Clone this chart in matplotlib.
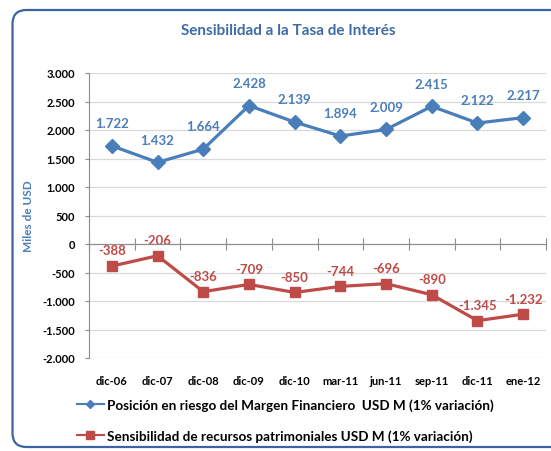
import matplotlib
matplotlib.use("Agg")
import matplotlib.pyplot as plt
from matplotlib.patches import FancyBboxPatch
from matplotlib.lines import Line2D

categories = ["dic-06", "dic-07", "dic-08", "dic-09", "dic-10",
              "mar-11", "jun-11", "sep-11", "dic-11", "ene-12"]
margen = [1722, 1432, 1664, 2428, 2139, 1894, 2009, 2415, 2122, 2217]
patrimonio = [-388, -206, -836, -709, -850, -744, -696, -890, -1345, -1232]
y_ticks = [-2000, -1500, -1000, -500, 0, 500, 1000, 1500, 2000, 2500, 3000]

label_margen = "Posición en riesgo del Margen Financiero  USD M (1% variación)"
label_patrimonio = "Sensibilidad de recursos patrimoniales USD M (1% variación)"

BLUE = "#4A7EBB"
RED = "#BE4B48"
DARKBLUE = "#3F6CA6"
GRID = "#D9D9D9"
AXIS = "#8C8C8C"

plt.rcParams['font.family'] = ['Lato', 'DejaVu Sans']


def fmt(v):
    return f"{v:,.0f}".replace(",", ".")


fig = plt.figure(figsize=(5.51, 4.52), dpi=100)

# outer frame, runs off the right edge like the screenshot
frame = FancyBboxPatch((0.125, 0.04), 5.8, 4.37,
                       boxstyle="round,pad=0,rounding_size=0.14",
                       transform=fig.dpi_scale_trans, fill=False,
                       edgecolor="#3B64A0", linewidth=1.6)
fig.patches.append(frame)

fig.text(288 / 551, 1 - 31 / 452, "Sensibilidad a la Tasa de Interés",
         ha="center", va="center", fontsize=11, fontweight="bold", color=DARKBLUE)

ax = fig.add_axes([89 / 551, 1 - 359 / 452, (546 - 89) / 551, (359 - 74) / 452])
x = list(range(len(categories)))

ax.plot(x, margen, color=BLUE, lw=2.3, marker="D", markersize=7, zorder=4)
ax.plot(x, patrimonio, color=RED, lw=2.3, marker="s", markersize=7.5, zorder=4)

for xi, v in zip(x, margen):
    ax.annotate(fmt(v), (xi, v), xytext=(0, 12), textcoords="offset points",
                ha="center", va="bottom", fontsize=9.5, fontweight="bold", color=BLUE)
for xi, v in zip(x, patrimonio):
    ax.annotate(fmt(v), (xi, v), xytext=(0, 7), textcoords="offset points",
                ha="center", va="bottom", fontsize=9.5, fontweight="bold", color=RED)

ax.set_xlim(-0.5, len(categories) - 0.5)
ax.set_ylim(-2000, 3000)
ax.set_yticks(y_ticks)
ax.set_yticklabels([fmt(v) for v in y_ticks])
ax.yaxis.grid(True, color=GRID, lw=0.9)
ax.set_axisbelow(True)
ax.tick_params(axis="y", length=3, color=AXIS, pad=7, labelsize=8)
for lbl in ax.get_yticklabels():
    lbl.set_fontweight("bold")

for side in ("top", "right"):
    ax.spines[side].set_visible(False)
ax.spines["left"].set_color(AXIS)
ax.spines["bottom"].set_position(("data", 0))
ax.spines["bottom"].set_color(AXIS)
ax.spines["bottom"].set_zorder(3)

# category boundaries as cross ticks on the zero line
ax.set_xticks([i - 0.5 for i in range(len(categories) + 1)])
ax.set_xticklabels([])
ax.tick_params(axis="x", direction="inout", length=8, color=AXIS)

sec = ax.secondary_xaxis("bottom")
sec.set_xticks(x)
sec.set_xticklabels(categories)
sec.tick_params(length=0, pad=12, labelsize=8)
sec.spines["bottom"].set_visible(False)
for lbl in sec.get_xticklabels():
    lbl.set_fontweight("bold")

fig.text(28 / 551, 1 - 216 / 452, "Miles de USD", rotation=90, ha="center",
         va="center", fontsize=8.5, fontweight="bold", color=BLUE)

handles = [
    Line2D([], [], color=BLUE, lw=1.5, marker="D", markersize=4),
    Line2D([], [], color=RED, lw=1.5, marker="s", markersize=5.5),
]
leg = fig.legend(handles, [label_margen, label_patrimonio],
                 loc="upper left", bbox_to_anchor=(77 / 551, 1 - 399 / 452),
                 frameon=False, handlelength=2.0, handletextpad=0.2,
                 borderpad=0, borderaxespad=0,
                 labelspacing=1.35, prop={"size": 9.7, "weight": "bold"})

fig.savefig("out.png", dpi=100)
